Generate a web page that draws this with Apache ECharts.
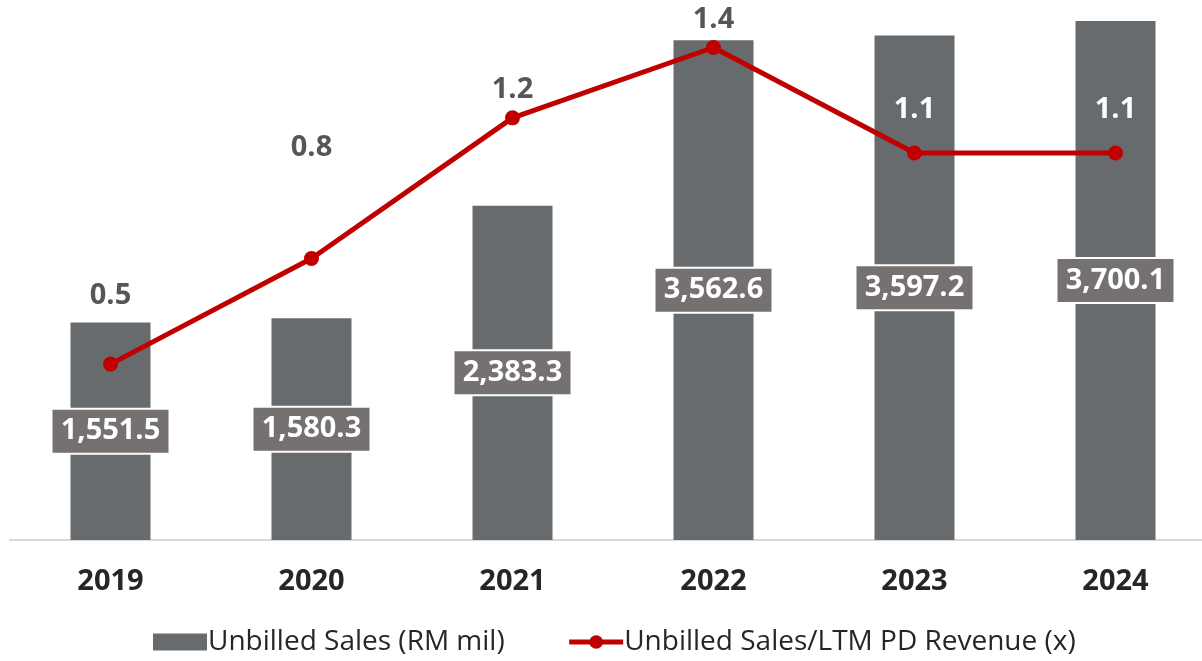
<!DOCTYPE html>
<html>
<head>
<meta charset="utf-8">
<script src="https://cdn.jsdelivr.net/npm/echarts@6/dist/echarts.min.js"></script>
<style>
  html, body { margin: 0; padding: 0; background: #fff; }
  #chart { width: 1202px; height: 661px; }
</style>
</head>
<body>
<div id="chart"></div>
<script>
var years = ['2019', '2020', '2021', '2022', '2023', '2024'];
var unbilledSales = [1551.5, 1580.3, 2383.3, 3562.6, 3597.2, 3700.1];
var salesToRevenue = [0.5, 0.8, 1.2, 1.4, 1.1, 1.1];

// label placement above each point (px), as in the source slide
var lineLabelDist = [46, 89, 6, 6, 21, 21];
var lineLabelColor = ['#595456', '#595456', '#595456', '#595456', '#ffffff', '#ffffff'];

var myChart = echarts.init(document.getElementById('chart'), null, { renderer: 'canvas' });

var fontFamily = '"Open Sans", "Noto Sans", sans-serif';

var lineData = salesToRevenue.map(function (v, i) {
    return {
        value: v,
        label: {
            distance: lineLabelDist[i],
            color: lineLabelColor[i]
        }
    };
});

var option = {
    animation: false,
    textStyle: { fontFamily: fontFamily },
    grid: {
        top: 0,
        left: 10,
        right: -14,
        bottom: 121,
        containLabel: false,
        outerBoundsMode: 'none'
    },
    legend: {
        bottom: 0,
        left: 148,
        itemGap: 62,
        itemWidth: 54,
        itemHeight: 17,
        textStyle: {
            fontFamily: fontFamily,
            fontSize: 28,
            color: '#262626',
            padding: [0, 0, 0, -4]
        },
        data: [
            { name: 'Unbilled Sales (RM mil)', icon: 'rect' },
            { name: 'Unbilled Sales/LTM PD Revenue (x)', lineStyle: { width: 5 } }
        ]
    },
    xAxis: {
        type: 'category',
        data: years,
        axisLine: { lineStyle: { color: '#d9d9d9', width: 2 } },
        axisTick: { show: false },
        axisLabel: {
            margin: 27,
            fontSize: 29,
            fontWeight: 'bold',
            color: '#262626',
            fontFamily: fontFamily
        }
    },
    yAxis: [
        {
            type: 'value',
            min: 0,
            max: 3850,
            show: false,
            splitLine: { show: false }
        },
        {
            type: 'value',
            min: 0,
            max: 1.535,
            show: false,
            splitLine: { show: false }
        }
    ],
    series: [
        {
            name: 'Unbilled Sales (RM mil)',
            type: 'bar',
            yAxisIndex: 0,
            barWidth: 80,
            itemStyle: { color: '#686b6e' },
            label: {
                show: true,
                position: 'inside',
                formatter: function (p) {
                    return p.value.toLocaleString('en-US', { minimumFractionDigits: 1, maximumFractionDigits: 1 });
                },
                width: 116,
                height: 43,
                lineHeight: 43,
                align: 'center',
                backgroundColor: '#767171',
                borderColor: '#ffffff',
                borderWidth: 2,
                color: '#ffffff',
                fontSize: 29,
                fontWeight: 'bold',
                fontFamily: fontFamily
            },
            data: unbilledSales
        },
        {
            name: 'Unbilled Sales/LTM PD Revenue (x)',
            type: 'line',
            yAxisIndex: 1,
            symbol: 'circle',
            symbolSize: 15,
            lineStyle: { color: '#c00000', width: 5 },
            itemStyle: { color: '#c00000' },
            label: {
                show: true,
                position: 'top',
                formatter: function (p) { return p.value.toFixed(1); },
                fontSize: 29,
                fontWeight: 'bold',
                fontFamily: fontFamily
            },
            data: lineData
        }
    ]
};

myChart.setOption(option);
</script>
</body>
</html>
